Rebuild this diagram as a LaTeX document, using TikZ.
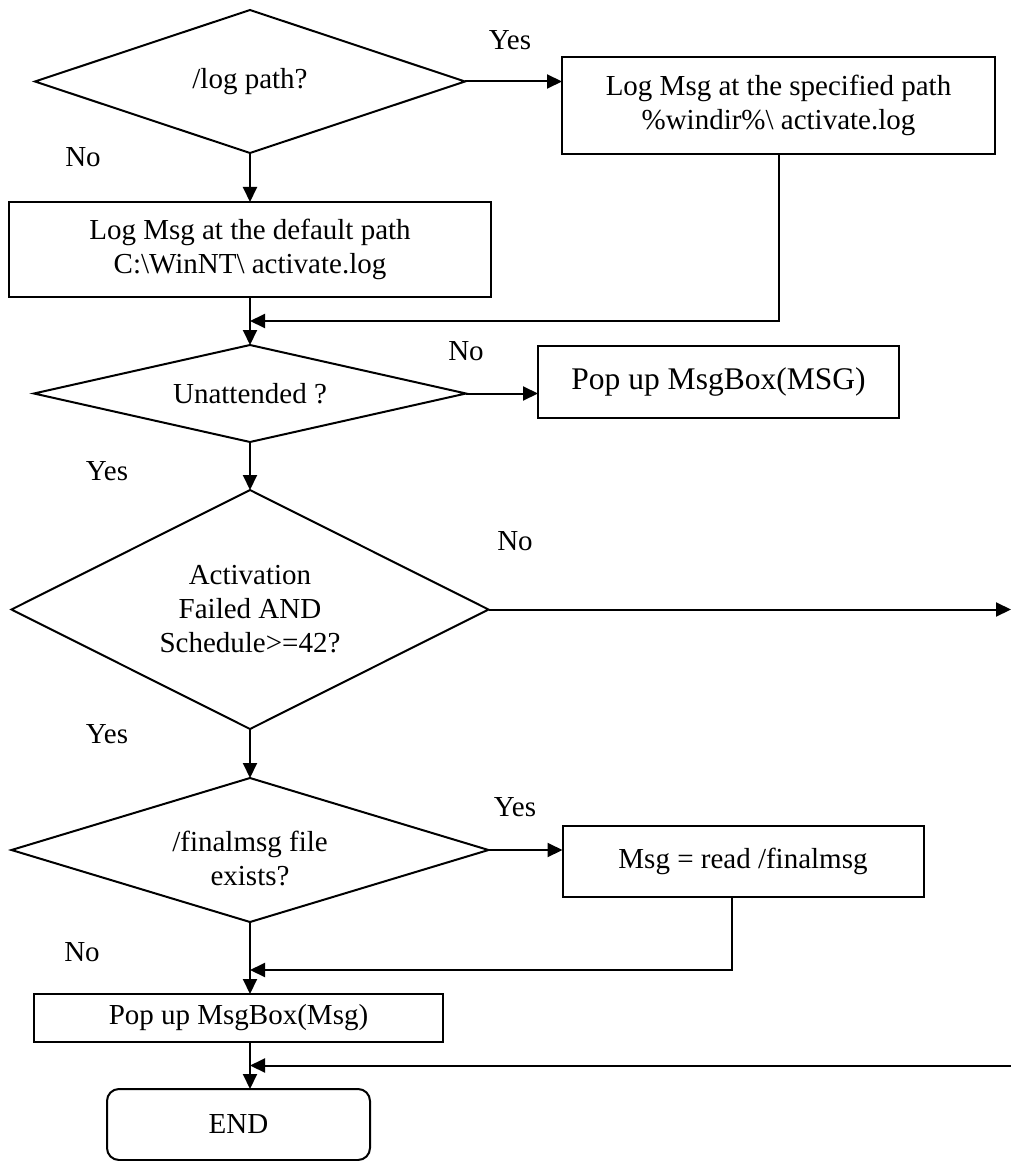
\documentclass[tikz,border=0pt]{standalone}
\usepackage{fontspec}
\setmainfont{Liberation Serif}
\usetikzlibrary{positioning, shapes.geometric, arrows.meta, calc}

\tikzset{
  decision/.style={diamond, draw, line width=2pt, aspect=3, inner sep=0pt, outer sep=0pt, align=center},
  process/.style={rectangle, draw, line width=2pt, inner sep=0pt, outer sep=0pt, align=center},
  terminal/.style={process, rounded corners=12pt},
  flow/.style={line width=2pt, -{Triangle[length=15pt, width=14pt]}},
  answer/.style={inner sep=0pt}
}

\begin{document}
\begin{tikzpicture}[x=1pt, y=-1pt, font=\fontsize{29}{34}\selectfont]
        \useasboundingbox (0,0) rectangle (1011,1161);

        \node[decision, minimum width=430pt, minimum height=143pt] (LP) at (250,81.5) {/log path?};
        \node[process, minimum width=433pt, minimum height=97pt, right=97pt of LP, yshift=-24pt] (LS) {Log Msg at the specified path\\\%windir\%\textbackslash{} activate.log};
        \node[process, minimum width=482pt, minimum height=95pt, below=49pt of LP] (LD) {Log Msg at the default path\\C:\textbackslash WinNT\textbackslash{} activate.log};
        \node[decision, minimum width=432pt, minimum height=97pt, below=48pt of LD] (UA) {Unattended ?};
        \node[process, minimum width=361pt, minimum height=72pt, right=72pt of UA, yshift=11.5pt, font=\fontsize{31.5}{36}\selectfont] (PU) {Pop up MsgBox(MSG)};
        \node[decision, minimum width=477pt, minimum height=239pt, below=48pt of UA] (AF) {Activation\\Failed AND\\Schedule>=42?};
        \node[decision, minimum width=477pt, minimum height=144pt, below=49pt of AF] (FM) {\raisebox{-12pt}[\height][\depth]{\begin{tabular}{@{}c@{}}/finalmsg file\\exists?\end{tabular}}};
        \node[process, minimum width=361pt, minimum height=71pt, right=74pt of FM, yshift=-11.5pt] (RM) {Msg = read /finalmsg};
        \node[process, minimum width=409pt, minimum height=48pt, below=72pt of FM, xshift=-11.5pt] (PM) {Pop up MsgBox(Msg)};
        \node[terminal, minimum width=263pt, minimum height=71pt, below=47pt of PM] (EN) {END};

        % right border of the page
        \coordinate (RIM) at (1011,0);
        \coordinate (M1) at ($(LD.south)!0.5!(UA.north)$);
        \coordinate (M2) at ([yshift=-48pt]FM.south);
        \coordinate (M3) at ($(FM.south |- PM.south)!0.5!(FM.south |- EN.north)$);

        \draw[flow] (LP.east) -- (LP.east -| LS.west);
        \draw[flow] (LP.south) -- (LD.north);
        \draw[flow] (LS.south) |- (M1);
        \draw[flow] (LD.south) -- (UA.north);
        \draw[flow] (UA.east) -- (UA.east -| PU.west);
        \draw[flow] (UA.south) -- (AF.north);
        \draw[flow] (AF.east) -- (AF.east -| RIM);
        \draw[flow] (AF.south) -- (FM.north);
        \draw[flow] (FM.east) -- (FM.east -| RM.west);
        \draw[flow] ([xshift=-11pt]RM.south) |- (M2);
        \draw[flow] (FM.south) -- (FM.south |- PM.north);
        \draw[flow] (FM.south |- PM.south) -- (FM.south |- EN.north);
        \draw[flow] (M3 -| RIM) -- (M3);

        \node[answer] (Y1) at (510,40) {Yes};
        \node[answer] (N1) at (83,157) {No};
        \node[answer] (N2) at (466,351) {No};
        \node[answer] (Y2) at (107,471) {Yes};
        \node[answer] (N3) at (515,541) {No};
        \node[answer] (Y3) at (107,734) {Yes};
        \node[answer] (Y4) at (515,807) {Yes};
        \node[answer] (N4) at (82,952) {No};
    \end{tikzpicture}
\end{document}
